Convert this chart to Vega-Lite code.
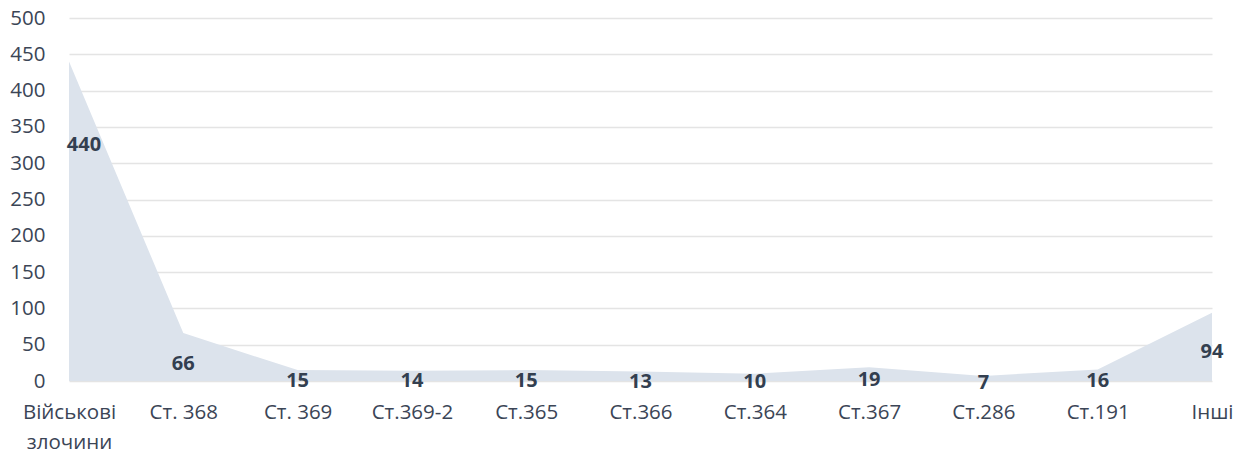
{
  "$schema": "https://vega.github.io/schema/vega-lite/v6.json",
  "width": 1143,
  "height": 363,
  "autosize": {"type": "none"},
  "padding": {"left": 69, "top": 18, "right": 37, "bottom": 77},
  "background": "white",
  "config": {
    "view": {"stroke": null},
    "font": "Open Sans",
    "axis": {"labelFont": "Open Sans", "labelFontSize": 20.5, "labelColor": "#3b4556", "domain": false, "ticks": false}
  },
  "data": {
    "values": [
      {"cat": "Військові злочини", "v": 440},
      {"cat": "Ст. 368", "v": 66},
      {"cat": "Ст. 369", "v": 15},
      {"cat": "Ст.369-2", "v": 14},
      {"cat": "Ст.365", "v": 15},
      {"cat": "Ст.366", "v": 13},
      {"cat": "Ст.364", "v": 10},
      {"cat": "Ст.367", "v": 19},
      {"cat": "Ст.286", "v": 7},
      {"cat": "Ст.191", "v": 16},
      {"cat": "Інші", "v": 94}
    ]
  },
  "encoding": {
    "x": {
      "field": "cat", "type": "ordinal", "sort": null,
      "scale": {"type": "point", "padding": 0},
      "axis": {
        "title": null, "labelAngle": 0, "labelPadding": 21, "grid": false,
        "labelExpr": "datum.value == 'Військові злочини' ? ['Військові', 'злочини'] : datum.value",
        "labelLineHeight": 30
      }
    }
  },
  "layer": [
    {
      "mark": {"type": "area", "color": "#dce3ec", "opacity": 1},
      "encoding": {
        "y": {
          "field": "v", "type": "quantitative",
          "scale": {"domain": [0, 500], "nice": false},
          "axis": {"title": null, "values": [0,50,100,150,200,250,300,350,400,450,500], "labelPadding": 24, "gridColor": "#e4e4e4", "gridWidth": 1.5}
        }
      }
    },
    {
      "mark": {"type": "text", "fontWeight": "bold", "fontSize": 20, "color": "#333f50", "baseline": "middle", "align": "center", "dx": {"expr": "datum.cat == 'Військові злочини' ? 15 : 0"}},
      "encoding": {
        "y": {"field": "v", "type": "quantitative", "scale": {"type": "pow", "exponent": 1.3, "domain": [15, 611], "nice": false, "zero": false, "clamp": false}, "axis": null},
        "text": {"field": "v", "type": "quantitative"}
      }
    }
  ],
  "resolve": {"scale": {"y": "independent"}}
}
